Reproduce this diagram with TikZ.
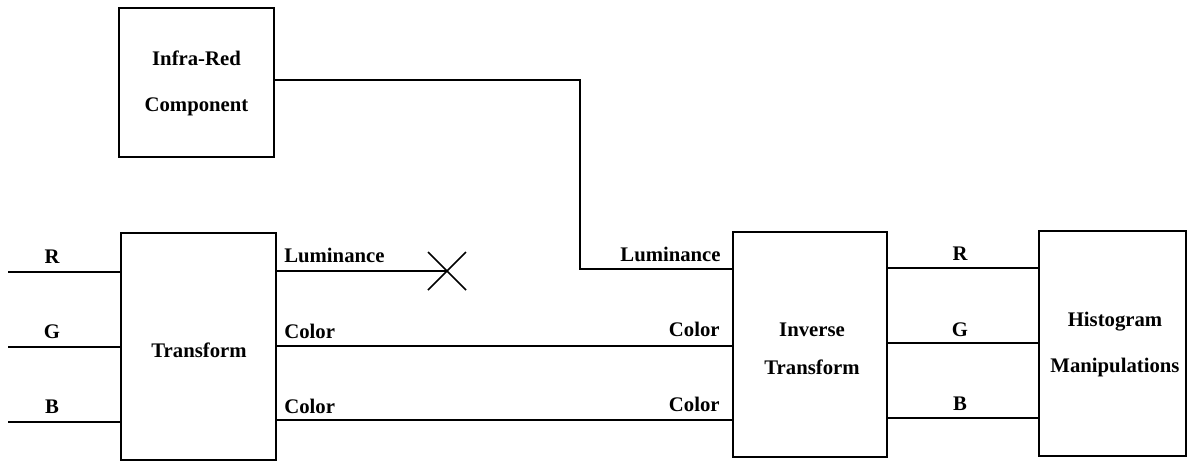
\documentclass[tikz,border=0pt]{standalone}
\usepackage{fontspec}
\setmainfont{Liberation Serif}
\begin{document}
\begin{tikzpicture}[x=0.02cm,y=-0.02cm,
  box/.style={draw,line width=0.9pt,inner sep=0pt,minimum width=#1},
  wire/.style={line width=0.9pt},
  txt/.style={font=\fontsize{11.8}{14}\selectfont\bfseries,inner sep=0pt}]
\useasboundingbox (0,0) rectangle (1188,464);
% boxes
\node[box=3.1cm,minimum height=2.98cm] (IR) at (196.5,82.5) {};
\node[box=3.1cm,minimum height=4.54cm] (T) at (198.5,346.5) {};
\node[box=3.07cm,minimum height=4.5cm] (IT) at (810,344.5) {};
\node[box=2.94cm,minimum height=4.5cm] (H) at (1112.5,343.5) {};
% box texts
\node[txt,anchor=base] (tIR1) at (196.5,65) {Infra-Red};
\node[txt,anchor=base] (tIR2) at (196.5,111) {Component};
\node[txt,anchor=base] (tT) at (199,357) {Transform};
\node[txt,anchor=base] (tIT1) at (812,336) {Inverse};
\node[txt,anchor=base] (tIT2) at (812,374) {Transform};
\node[txt,anchor=base] (tH1) at (1115,326) {Histogram};
\node[txt,anchor=base] (tH2) at (1115,372) {Manipulations};
% input wires
\coordinate (rin) at (8,272);
\coordinate (gin) at (8,347);
\coordinate (bin) at (8,422);
\draw[wire] (rin) -- (rin -| T.west);
\draw[wire] (gin) -- (gin -| T.west);
\draw[wire] (bin) -- (bin -| T.west);
\node[txt,anchor=base] (lR) at (52,263) {R};
\node[txt,anchor=base] (lG) at (52,338) {G};
\node[txt,anchor=base] (lB) at (52,413) {B};
% transform outputs
\coordinate (xm) at (447,271);
\draw[wire] (xm -| T.east) -- (xm);
\draw[wire] (xm) ++(-19,-19) -- ++(38,38);
\draw[wire] (xm) ++(-19,19) -- ++(38,-38);
\coordinate (c2) at (580,346);
\coordinate (c3) at (580,420);
\draw[wire] (c2 -| T.east) -- (c2 -| IT.west);
\draw[wire] (c3 -| T.east) -- (c3 -| IT.west);
\node[txt,anchor=base west] (lLum1) at (284,262) {Luminance};
\node[txt,anchor=base west] (lC1) at (284,338) {Color};
\node[txt,anchor=base west] (lC2) at (284,413) {Color};
% infra-red wire
\coordinate (c1) at (580,269);
\draw[wire] ([yshift=0.05cm]IR.east) -| (c1) -- (c1 -| IT.west);
\node[txt,anchor=base east] (lLum2) at (721,261) {Luminance};
\node[txt,anchor=base east] (lC3) at (720,336) {Color};
\node[txt,anchor=base east] (lC4) at (720,411) {Color};
% inverse outputs
\coordinate (r2) at (960,268);
\coordinate (g2) at (960,343);
\coordinate (b2) at (960,418);
\draw[wire] (r2 -| IT.east) -- (r2 -| H.west);
\draw[wire] (g2 -| IT.east) -- (g2 -| H.west);
\draw[wire] (b2 -| IT.east) -- (b2 -| H.west);
\node[txt,anchor=base] (lR2) at (960,260) {R};
\node[txt,anchor=base] (lG2) at (960,336) {G};
\node[txt,anchor=base] (lB2) at (960,410) {B};
\end{tikzpicture}
\end{document}
